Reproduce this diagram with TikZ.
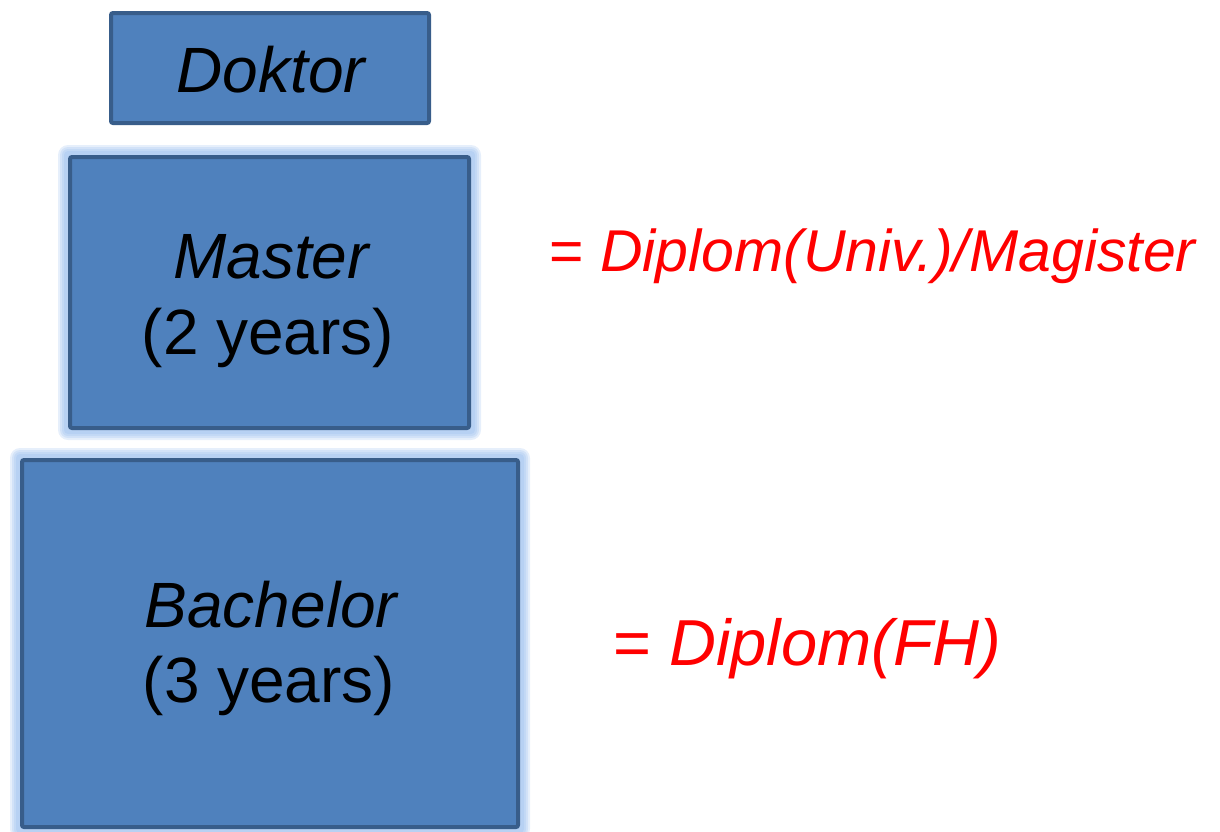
\documentclass[tikz,border=0pt]{standalone}
\usepackage{fontspec}
\setmainfont{Liberation Sans}
\usetikzlibrary{backgrounds}
\definecolor{boxfill}{HTML}{4F81BD}
\definecolor{boxline}{HTML}{385D8A}
\definecolor{glowcol}{HTML}{8DB6EC}
\definecolor{notered}{HTML}{FF0000}
\begin{document}
\begin{tikzpicture}[
        x=1pt, y=-1pt,
        degree/.style={draw=boxline, fill=boxfill, line width=4pt, rounded corners=2pt, inner sep=0pt},
        boxtext/.style={font=\fontsize{64}{76}\selectfont, anchor=base, inner sep=0pt},
        equiv/.style={text=notered, anchor=base west, inner sep=0pt},
    ]
    \useasboundingbox (0,0) rectangle (1220,831);
    % the three degree boxes
    \node[degree, minimum width=318, minimum height=110](doktor) at (270,68){};
    \node[degree, minimum width=399, minimum height=271](master) at (269.5,292.5){};
    \node[degree, minimum width=496, minimum height=367](bachelor) at (270,643.5){};
    % soft glow behind master and bachelor
    \begin{scope}[on background layer]
    \foreach \b in {master,bachelor}
        \foreach \g in {10,8,6,4}
            \fill[glowcol, opacity=0.22, rounded corners=\g pt]
                ([shift={(-\g,-\g)}]\b.north west) rectangle ([shift={(\g,\g)}]\b.south east);
    \end{scope}
    % texts
    \node[boxtext](doktortext) at (271,92){\itshape Doktor};
    \node[boxtext](mastertext) at (271,278){\itshape Master};
    \node[boxtext](masteryears) at (268,354){(2 years)};
    \node[boxtext](bachelortext) at (271,627){\itshape Bachelor};
    \node[boxtext](bacheloryears) at (269,702){(3 years)};
    \node[equiv, font=\fontsize{59}{70}\selectfont](univ) at (549,271){= \itshape Diplom(Univ.)/Magister};
    \node[equiv, font=\fontsize{65}{78}\selectfont](fh) at (613,665){= \itshape Diplom(FH)};
\end{tikzpicture}
\end{document}
